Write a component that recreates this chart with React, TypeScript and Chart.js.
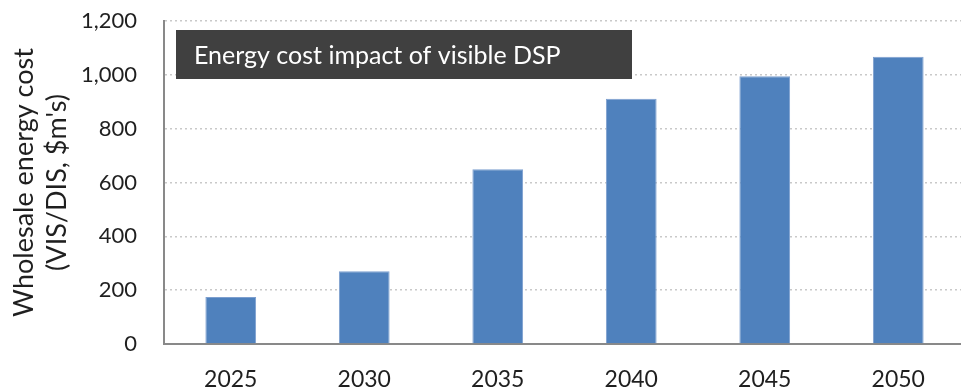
import React, { useEffect, useRef } from "react";
import { Chart, registerables } from "chart.js";

Chart.register(...registerables);

// Wholesale energy cost impact by year ($m)
const years = ["2025", "2030", "2035", "2040", "2045", "2050"];
const costs = [175, 270, 649, 911, 995, 1067];
const yTicks = [0, 200, 400, 600, 800, 1000, 1200];
const panelTitle = "Energy cost impact of visible DSP";
const yTitle = ["Wholesale energy cost", "(VIS/DIS, $m's)"];

const FONT = "Lato, 'Open Sans', sans-serif";
const TEXT = "#1f1f1f";
const AXIS = "#898989";

// Dark caption panel in the upper-left corner of the plot area
const captionPanel = {
  id: "captionPanel",
  afterDatasetsDraw(chart: any) {
    const { ctx, chartArea } = chart;
    const x = chartArea.left + 12;
    const y = chartArea.top + 9;
    const w = 456;
    const h = 49;
    ctx.save();
    ctx.fillStyle = "#404040";
    ctx.fillRect(x, y, w, h);
    ctx.fillStyle = "#ffffff";
    ctx.font = `25px ${FONT}`;
    ctx.textBaseline = "middle";
    ctx.textAlign = "left";
    ctx.fillText(panelTitle, x + 18, y + h / 2 + 1);
    ctx.restore();
  },
};

export default function App() {
  const canvasRef = useRef<HTMLCanvasElement | null>(null);

  useEffect(() => {
    if (!canvasRef.current) return;
    const chart = new Chart(canvasRef.current, {
      type: "bar",
      data: {
        labels: years,
        datasets: [
          {
            data: costs,
            backgroundColor: "#4f81bd",
            borderColor: "#7d9fcf",
            borderWidth: 1,
            barPercentage: 0.38,
            categoryPercentage: 1,
          },
        ],
      },
      options: {
        responsive: false,
        animation: false,
        devicePixelRatio: 1,
        layout: { padding: { top: 21, left: 0, right: 0, bottom: 0 } },
        plugins: {
          legend: { display: false },
          tooltip: { enabled: false },
          title: { display: false },
        },
        scales: {
          x: {
            grid: { display: false, drawTicks: false },
            border: { display: true, color: AXIS, width: 2 },
            ticks: {
              font: { family: FONT, size: 23 },
              color: TEXT,
              padding: 22,
            },
            afterFit(scale: any) {
              scale.height = 45;
              scale.paddingLeft = 0;
              scale.paddingRight = 0;
            },
          },
          y: {
            min: 0,
            max: 1200,
            afterBuildTicks(scale: any) {
              scale.ticks = yTicks.map((v) => ({ value: v }));
            },
            ticks: {
              font: { family: FONT, size: 22 },
              color: TEXT,
              padding: 27,
              callback: (v: any) => Number(v).toLocaleString("en-US"),
            },
            grid: { color: "#c9c9c9", lineWidth: 1.5, drawTicks: false },
            border: { display: true, color: AXIS, width: 2, dash: [2, 3] },
            title: {
              display: true,
              text: yTitle,
              color: TEXT,
              font: { family: FONT, size: 27, lineHeight: 1.22 },
              padding: { top: 8, bottom: 0 },
            },
            afterFit(scale: any) {
              scale.width = 164;
              scale.paddingTop = 0;
              scale.paddingBottom = 0;
            },
          },
        },
      },
      plugins: [captionPanel],
    });
    return () => chart.destroy();
  }, []);

  return (
    <div
      style={{
        position: "fixed",
        left: 0,
        top: 0,
        width: 961,
        height: 389,
        overflow: "hidden",
        background: "#ffffff",
      }}
    >
      <canvas
        ref={canvasRef}
        width={965}
        height={389}
        style={{ width: 965, height: 389, display: "block" }}
      />
    </div>
  );
}
